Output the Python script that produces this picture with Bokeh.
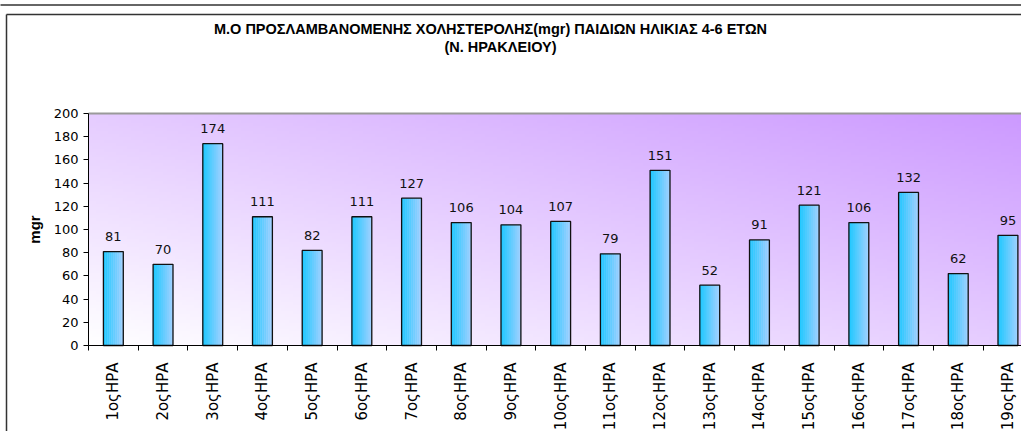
import math
import numpy as np
from bokeh.plotting import figure
from bokeh.models import ColumnDataSource, Range1d, FixedTicker
from bokeh.core.properties import value
from bokeh.embed import file_html
from bokeh.resources import INLINE

# ---- data ----
categories = ["1οςΗΡΑ", "2οςΗΡΑ", "3οςΗΡΑ", "4οςΗΡΑ", "5οςΗΡΑ", "6οςΗΡΑ", "7οςΗΡΑ",
              "8οςΗΡΑ", "9οςΗΡΑ", "10οςΗΡΑ", "11οςΗΡΑ", "12οςΗΡΑ", "13οςΗΡΑ",
              "14οςΗΡΑ", "15οςΗΡΑ", "16οςΗΡΑ", "17οςΗΡΑ", "18οςΗΡΑ", "19οςΗΡΑ"]
values = [81, 70, 174, 111, 82, 111, 127, 106, 104, 107, 79, 151, 52, 91, 121, 106, 132, 62, 95]
y_ticks = [0, 20, 40, 60, 80, 100, 120, 140, 160, 180, 200]
title_line1 = "Μ.Ο ΠΡΟΣΛΑΜΒΑΝΟΜΕΝΗΣ ΧΟΛΗΣΤΕΡΟΛΗΣ(mgr) ΠΑΙΔΙΩΝ ΗΛΙΚΙΑΣ 4-6 ΕΤΩΝ"
title_line2 = "(Ν. ΗΡΑΚΛΕΙΟΥ)"
y_label = "mgr"

# ---- layout (pixel geometry of the plot area inside the canvas) ----
W, H = 1021, 431
AREA_LEFT, AREA_TOP, AREA_BOTTOM = 88, 113, 345
CAT_PX = 49.7
y_max = 200
Y_PX = (AREA_BOTTOM - AREA_TOP) / y_max


def px_to_x(px):
    return (px - AREA_LEFT) / CAT_PX - 0.5


def py_to_y(py):
    return (AREA_BOTTOM - py) / Y_PX


x_lo, x_hi = -0.5, px_to_x(W)

p = figure(width=W, height=H,
           x_range=Range1d(px_to_x(0), px_to_x(W)),
           y_range=Range1d(py_to_y(H), py_to_y(0)),
           output_backend="svg", toolbar_location=None,
           min_border_left=0, min_border_right=0, min_border_top=0, min_border_bottom=0)
p.background_fill_color = "white"
p.border_fill_color = "white"
p.outline_line_color = None
p.xgrid.grid_line_color = None
p.ygrid.grid_line_color = None

# ---- background gradient of the plot area ----
gw, gh = 240, 80
u = np.linspace(0, 1, gw)[None, :]
v = np.linspace(0, 1, gh)[:, None]
t = (u + v) / 2.0
c0 = np.array([255, 255, 255], dtype=float)
c1 = np.array([204, 153, 255], dtype=float)
img = np.empty((gh, gw), dtype=np.uint32)
view = img.view(dtype=np.uint8).reshape((gh, gw, 4))
for ch in range(3):
    view[:, :, ch] = np.clip(c0[ch] + (c1[ch] - c0[ch]) * t, 0, 255).astype(np.uint8)
view[:, :, 3] = 255
p.image_rgba(image=[img], x=x_lo, y=0, dw=len(categories), dh=y_max)

# ---- bars with horizontal gradient ----
n_sl = 10
bw = 0.4
left_c = np.array([0x22, 0xc8, 0xff], dtype=float)
right_c = np.array([0x9c, 0xd0, 0xff], dtype=float)
xs, tops, cols = [], [], []
for i, val in enumerate(values):
    for k in range(n_sl):
        f = k / (n_sl - 1)
        c = left_c + (right_c - left_c) * f
        xs.append(i - bw / 2 + (k + 0.5) * bw / n_sl)
        tops.append(val)
        cols.append("#%02x%02x%02x" % tuple(int(round(x)) for x in c))
p.vbar(x=xs, top=tops, bottom=0, width=bw / n_sl * 1.2, fill_color=cols, line_color=None)

src = ColumnDataSource(dict(x=list(range(len(categories))), top=values,
                            lab=[str(vv) for vv in values]))
p.vbar(x="x", top="top", bottom=0, width=bw, source=src, fill_color=None,
       line_color="#111111", line_width=1.3)

p.text(x="x", y="top", text="lab", source=src, text_align="center",
       text_baseline="alphabetic", y_offset=-15, text_font=value("DejaVu Sans"),
       text_font_size="13px", text_color="#111111")

# top border of the plot area
p.segment(x0=[x_lo], y0=[y_max], x1=[x_hi + 1], y1=[y_max], line_color="#9a9a9a",
          line_width=2)

# ---- axes (fixed inside the canvas) ----
p.yaxis.fixed_location = x_lo
p.yaxis.bounds = (0, y_max)
p.yaxis.ticker = FixedTicker(ticks=y_ticks)
p.yaxis.major_tick_out = 5
p.yaxis.major_tick_in = 0
p.yaxis.minor_tick_line_color = None
p.yaxis.axis_line_color = "black"
p.yaxis.major_tick_line_color = "black"
p.yaxis.major_label_text_font = "DejaVu Sans"
p.yaxis.major_label_text_font_size = "13px"
p.yaxis.major_label_text_color = "black"
p.yaxis.major_label_standoff = 5
p.yaxis.axis_label = y_label
p.yaxis.axis_label_text_font = "Liberation Sans"
p.yaxis.axis_label_text_font_style = "bold"
p.yaxis.axis_label_text_font_size = "15px"
p.yaxis.axis_label_text_color = "black"
p.yaxis.axis_label_standoff = 8

p.xaxis.fixed_location = 0
p.xaxis.bounds = (x_lo, x_hi + 1)
p.xaxis.ticker = FixedTicker(ticks=list(range(len(categories))),
                             minor_ticks=[i - 0.5 for i in range(len(categories) + 1)])
p.xaxis.major_label_overrides = {i: c for i, c in enumerate(categories)}
p.xaxis.major_label_orientation = math.pi / 2
p.xaxis.major_tick_line_color = None
p.xaxis.major_tick_out = 0
p.xaxis.major_tick_in = 0
p.xaxis.minor_tick_line_color = "black"
p.xaxis.minor_tick_out = 5
p.xaxis.minor_tick_in = 0
p.xaxis.axis_line_color = "black"
p.xaxis.major_label_standoff = 12
p.xaxis.major_label_text_font = "DejaVu Sans"
p.xaxis.major_label_text_font_size = "15px"
p.xaxis.major_label_text_color = "black"

# ---- title ----
p.text(x=[px_to_x(490), px_to_x(500)], y=[py_to_y(28), py_to_y(46)],
       text=[title_line1, title_line2], text_align="center", text_baseline="middle",
       text_font=value("Liberation Sans"), text_font_style="bold",
       text_font_size="14.5px", text_color="black")

# ---- chart borders (left and top edge of the chart box, plus the box above) ----
far_r = px_to_x(W + 60)
p.segment(x0=[px_to_x(6), px_to_x(6), px_to_x(-60)],
          y0=[py_to_y(14), py_to_y(14), py_to_y(4.5)],
          x1=[px_to_x(6), far_r, far_r],
          y1=[py_to_y(H + 60), py_to_y(14), py_to_y(4.5)],
          line_color="#333333", line_width=1.5)

open("out.html", "w").write(file_html(p, INLINE))
